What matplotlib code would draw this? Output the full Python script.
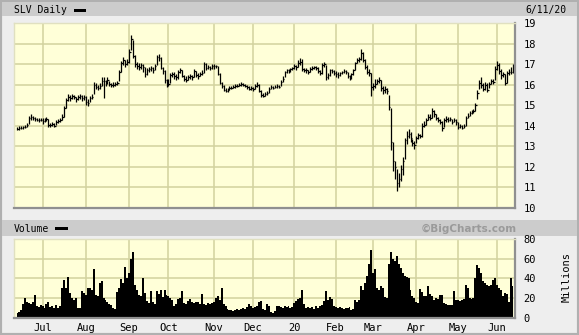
import numpy as np
import pandas as pd
import matplotlib
matplotlib.use('Agg')
import matplotlib.pyplot as plt
from matplotlib.patches import Rectangle

# ---------------- data ----------------
start_date, end_date = '2019-06-12', '2020-06-11'
holidays = ['2019-07-04', '2019-09-02', '2019-11-28', '2019-12-25', '2020-01-01',
            '2020-01-20', '2020-02-17', '2020-04-10', '2020-05-25']

close = [
    # Jun 2019
    13.85, 13.88, 13.90, 13.93, 13.95, 14.05, 14.40, 14.45, 14.40, 14.35, 14.30, 14.30, 14.30,
    # Jul
    14.25, 14.30, 14.35, 14.05, 14.05, 14.10, 14.00, 14.20, 14.25, 14.30, 14.45, 14.85, 15.25, 15.40,
    15.35, 15.45, 15.40, 15.30, 15.40, 15.45, 15.35, 15.40,
    # Aug
    15.15, 15.10, 15.35, 15.40, 16.00, 15.90, 15.85, 15.95, 16.20, 16.20, 16.10, 16.25, 16.05, 16.00,
    16.00, 16.05, 16.10, 16.60, 17.05, 17.20, 17.00, 17.10,
    # Sep
    17.60, 18.20, 17.40, 17.00, 16.90, 16.85, 16.95, 16.85, 16.50, 16.70, 16.75, 16.80, 16.70, 16.90,
    17.35, 17.30, 16.80, 16.65, 16.25, 16.00,
    # Oct
    16.05, 16.45, 16.50, 16.40, 16.35, 16.60, 16.70, 16.40, 16.30, 16.25, 16.35, 16.40, 16.35, 16.65,
    16.45, 16.40, 16.50, 16.55, 17.00, 16.80, 16.85, 16.80, 16.90,
    # Nov
    16.90, 16.90, 16.50, 16.10, 15.95, 15.75, 15.70, 15.75, 15.85, 15.85, 15.90, 15.95, 15.95, 16.00,
    16.05, 16.00, 15.95, 15.90, 15.80, 15.85,
    # Dec
    15.80, 15.95, 16.00, 15.70, 15.50, 15.45, 15.55, 15.60, 15.80, 15.90, 15.85, 15.90, 15.95, 15.90,
    16.15, 16.30, 16.60, 16.70, 16.65, 16.75, 16.80,
    # Jan 2020
    16.90, 16.85, 17.05, 17.10, 16.75, 16.70, 16.70, 16.60, 16.75, 16.80, 16.85, 16.80, 16.65, 16.55,
    16.95, 17.00, 16.35, 16.45, 16.70, 16.65, 16.55,
    # Feb
    16.50, 16.45, 16.55, 16.60, 16.65, 16.60, 16.40, 16.35, 16.50, 16.70, 17.05, 17.20, 17.25, 17.55,
    17.20, 16.85, 16.60, 16.55, 15.90,
    # Mar
    15.95, 16.05, 16.20, 16.25, 15.85, 15.75, 15.80, 15.70, 14.90, 13.20, 12.30, 12.00, 11.20, 11.40,
    11.90, 12.30, 13.30, 13.50, 13.60, 13.40, 13.15, 13.05,
    # Apr
    13.40, 13.55, 13.50, 14.00, 14.05, 14.30, 14.45, 14.40, 14.70, 14.55, 14.40, 14.30, 14.20, 13.90,
    14.30, 14.35, 14.30, 14.35, 14.20, 14.30, 14.20,
    # May
    13.95, 14.00, 13.90, 14.00, 14.40, 14.50, 14.60, 14.65, 14.70, 15.00, 15.60, 16.10, 16.00, 15.80,
    16.00, 15.75, 16.05, 16.20, 16.15, 16.75,
    # Jun
    16.95, 16.65, 16.45, 16.50, 16.10, 16.55, 16.60, 16.60, 16.85,
]

high = [
    13.95, 13.98, 13.98, 14.00, 14.05, 14.12, 14.50, 14.55, 14.50, 14.45, 14.40, 14.38, 14.40,
    14.40, 14.40, 14.45, 14.35, 14.15, 14.20, 14.12, 14.28, 14.35, 14.38, 14.55, 14.95, 15.35, 15.55,
    15.48, 15.55, 15.50, 15.42, 15.50, 15.55, 15.48, 15.52,
    15.45, 15.30, 15.45, 15.55, 16.15, 16.10, 16.00, 16.10, 16.35, 16.35, 16.25, 16.35, 16.20, 16.10,
    16.12, 16.15, 16.20, 16.70, 17.15, 17.35, 17.20, 17.25,
    17.75, 18.40, 18.15, 17.45, 17.10, 17.05, 17.05, 17.00, 16.85, 16.80, 16.85, 16.90, 16.85, 17.00,
    17.45, 17.50, 17.35, 16.85, 16.70, 16.30,
    16.30, 16.55, 16.62, 16.60, 16.50, 16.70, 16.80, 16.72, 16.45, 16.40, 16.45, 16.52, 16.48, 16.75,
    16.68, 16.55, 16.60, 16.70, 17.10, 17.05, 16.95, 16.92, 17.00,
    17.00, 16.98, 16.92, 16.55, 16.15, 15.98, 15.82, 15.85, 15.95, 15.95, 15.98, 16.02, 16.05, 16.08,
    16.12, 16.10, 16.05, 15.98, 15.92, 15.92,
    15.90, 16.05, 16.12, 16.05, 15.75, 15.58, 15.62, 15.68, 15.88, 15.98, 15.95, 15.98, 16.02, 16.00,
    16.22, 16.40, 16.68, 16.78, 16.75, 16.82, 16.88,
    17.00, 16.98, 17.20, 17.30, 17.25, 16.82, 16.80, 16.72, 16.85, 16.90, 16.92, 16.92, 16.85, 16.70,
    17.05, 17.10, 16.95, 16.55, 16.78, 16.78, 16.72,
    16.65, 16.60, 16.62, 16.68, 16.75, 16.72, 16.62, 16.48, 16.58, 16.78, 17.12, 17.30, 17.35, 17.75,
    17.60, 17.25, 16.95, 16.75, 16.55,
    16.10, 16.30, 16.30, 16.35, 16.25, 15.95, 15.95, 15.85, 15.50, 14.85, 13.20, 12.30, 11.90, 11.70,
    12.10, 12.50, 13.40, 13.75, 13.85, 13.70, 13.35, 13.25,
    13.50, 13.65, 13.62, 14.15, 14.25, 14.40, 14.55, 14.55, 14.85, 14.78, 14.55, 14.42, 14.35, 14.25,
    14.40, 14.48, 14.45, 14.42, 14.35, 14.40, 14.35,
    14.20, 14.10, 14.05, 14.10, 14.50, 14.60, 14.70, 14.78, 14.80, 15.10, 15.75, 16.25, 16.35, 16.10,
    16.15, 16.10, 16.15, 16.30, 16.30, 16.90,
    17.15, 17.05, 16.75, 16.60, 16.50, 16.65, 16.75, 16.85, 17.00,
]

low = [
    13.78, 13.80, 13.82, 13.85, 13.88, 13.92, 14.10, 14.30, 14.30, 14.25, 14.22, 14.20, 14.22,
    14.10, 14.20, 14.25, 13.95, 13.95, 14.00, 13.92, 14.02, 14.15, 14.20, 14.28, 14.45, 14.85, 15.20,
    15.22, 15.30, 15.28, 15.15, 15.25, 15.32, 15.22, 15.25,
    15.00, 14.98, 15.15, 15.30, 15.55, 15.80, 15.72, 15.80, 15.95, 15.35, 15.95, 16.05, 15.95, 15.88,
    15.90, 15.95, 16.00, 16.20, 16.60, 16.95, 16.85, 16.95,
    17.05, 17.70, 17.30, 16.85, 16.75, 16.70, 16.75, 16.60, 16.35, 16.45, 16.60, 16.65, 16.55, 16.70,
    16.95, 17.15, 16.75, 16.50, 16.10, 15.90,
    15.95, 16.10, 16.35, 16.30, 16.25, 16.30, 16.55, 16.35, 16.20, 16.15, 16.22, 16.30, 16.25, 16.35,
    16.38, 16.30, 16.40, 16.45, 16.55, 16.72, 16.75, 16.70, 16.78,
    16.78, 16.80, 16.45, 16.05, 15.85, 15.68, 15.62, 15.65, 15.72, 15.78, 15.82, 15.85, 15.88, 15.92,
    15.95, 15.92, 15.88, 15.78, 15.72, 15.75,
    15.70, 15.78, 15.90, 15.65, 15.42, 15.38, 15.45, 15.50, 15.58, 15.80, 15.78, 15.82, 15.85, 15.82,
    15.92, 16.15, 16.35, 16.55, 16.55, 16.62, 16.70,
    16.78, 16.72, 16.85, 16.95, 16.65, 16.60, 16.58, 16.52, 16.60, 16.70, 16.75, 16.70, 16.58, 16.45,
    16.50, 16.85, 16.25, 16.30, 16.40, 16.55, 16.45,
    16.38, 16.32, 16.40, 16.50, 16.55, 16.50, 16.32, 16.25, 16.30, 16.45, 16.70, 17.05, 17.10, 17.20,
    17.10, 16.75, 16.50, 16.40, 15.45,
    15.75, 15.85, 16.05, 16.10, 15.70, 15.55, 15.60, 15.55, 14.75, 12.80, 11.80, 11.40, 10.85, 11.00,
    11.30, 11.60, 12.40, 13.10, 13.40, 13.20, 13.00, 12.85,
    13.15, 13.35, 13.40, 13.45, 13.92, 14.05, 14.28, 14.30, 14.40, 14.45, 14.30, 14.20, 14.10, 13.75,
    13.95, 14.20, 14.18, 14.22, 14.10, 14.18, 14.05,
    13.85, 13.88, 13.82, 13.90, 14.00, 14.38, 14.50, 14.55, 14.60, 14.70, 15.30, 15.80, 15.85, 15.70,
    15.72, 15.65, 15.85, 16.05, 16.05, 16.25,
    16.70, 16.50, 16.30, 16.35, 16.00, 16.10, 16.45, 16.50, 16.55,
]

volume = [  # millions
    5, 6, 8, 14, 20, 16, 15, 14, 16, 23, 12, 11, 13,
    12, 10, 14, 16, 11, 12, 10, 13, 10, 12, 30, 38, 30, 41, 25, 20, 18, 20, 10, 10, 27, 25,
    23, 30, 30, 28, 49, 23, 22, 35, 37, 20, 18, 16, 14, 13, 10, 9, 26, 30, 39, 35, 51, 40,
    45, 60, 67, 33, 28, 23, 22, 40, 25, 17, 15, 27, 16, 14, 27, 24, 28, 21, 28, 23,
    22, 20, 18, 12, 14, 19, 20, 27, 15, 14, 17, 19, 16, 15, 16, 16, 14, 24, 14, 13, 15, 14, 15,
    16, 20, 22, 18, 30, 14, 12, 9, 8, 8, 7, 8, 9, 8, 9, 10, 9, 11, 14, 12,
    10, 11, 12, 16, 17, 9, 8, 14, 12, 6, 5, 7, 12, 12, 11, 10, 12, 11, 12, 10, 11,
    15, 17, 19, 20, 28, 14, 10, 11, 10, 11, 9, 12, 10, 12, 13, 17, 27, 18, 21, 19, 12,
    11, 10, 11, 10, 9, 10, 10, 11, 8, 9, 18, 16, 18, 32, 28, 35, 42, 55, 69,
    45, 49, 30, 28, 32, 30, 21, 20, 55, 67, 60, 58, 63, 55, 50, 45, 42, 41, 40, 28, 22, 20,
    16, 15, 29, 26, 22, 22, 32, 24, 22, 18, 20, 19, 23, 23, 15, 14, 13, 13, 13, 27, 18,
    18, 17, 18, 19, 33, 30, 20, 19, 20, 40, 54, 50, 45, 37, 35, 33, 32, 33, 38, 40,
    33, 30, 28, 22, 25, 24, 16, 40, 32,
]

month_labels = ['Jul', 'Aug', 'Sep', 'Oct', 'Nov', 'Dec', '20', 'Feb', 'Mar', 'Apr', 'May', 'Jun']
price_ticks = list(range(10, 20))
volume_ticks = [0, 20, 40, 60, 80]
title_left = 'SLV Daily'
title_right = '6/11/20'

# ---------------- layout helpers ----------------
W, H = 579, 335
def fx(px):
    return px / W
def fy(py):
    return 1 - py / H

dates = pd.bdate_range(start_date, end_date)
dates = dates[~dates.isin(pd.to_datetime(holidays))]
x = np.arange(len(dates))
month_starts = [i for i in range(1, len(dates)) if dates[i].month != dates[i - 1].month]

MONO = ['DejaVu Sans Mono']
BG = '#eeeeee'
BAND = '#cccccc'
PLOT_BG = '#ffffd8'
GRID = '#d2d29e'

fig = plt.figure(figsize=(W / 100, H / 100), dpi=100, facecolor=BG)

# outer frame
fig.add_artist(Rectangle((0, 0), 1, 1, transform=fig.transFigure, fill=False,
                         edgecolor='#b0b0b0', lw=3, zorder=0))
# header bands
fig.add_artist(Rectangle((fx(2), fy(16)), fx(577) - fx(2), fy(2) - fy(16),
                         transform=fig.transFigure, facecolor=BAND, edgecolor='none', zorder=0))
fig.add_artist(Rectangle((fx(2), fy(236)), fx(577) - fx(2), fy(220) - fy(236),
                         transform=fig.transFigure, facecolor=BAND, edgecolor='none', zorder=0))

fig.text(fx(14), fy(10), title_left, family=MONO, size=7, ha='left', va='center')
fig.add_artist(Rectangle((fx(74), fy(11.5)), fx(86) - fx(74), fy(8.5) - fy(11.5),
                         transform=fig.transFigure, facecolor='black', edgecolor='none'))
fig.text(fx(566), fy(10), title_right, family=MONO, size=7, ha='right', va='center')

fig.text(fx(14), fy(228.5), 'Volume', family=MONO, size=7, ha='left', va='center')
fig.add_artist(Rectangle((fx(55.5), fy(230)), fx(67.5) - fx(55.5), fy(227) - fy(230),
                         transform=fig.transFigure, facecolor='black', edgecolor='none'))
fig.text(fx(517), fy(228.5), '\u00a9BigCharts.com', family=['DejaVu Sans'], weight='bold',
         size=7.5, color='#9a9a9a', ha='right', va='center')

xlim = (-1.5, 253.1)

def style_axes(ax):
    ax.set_facecolor(PLOT_BG)
    ax.set_xlim(*xlim)
    ax.yaxis.tick_right()
    ax.tick_params(axis='both', length=0, labelsize=7, pad=6)
    ax.set_xticks(month_starts)
    ax.grid(True, color=GRID, lw=1.1)
    ax.set_axisbelow(True)
    for s in ['top', 'left']:
        ax.spines[s].set_color('#e0e0c0')
        ax.spines[s].set_linewidth(1)
    for s in ['bottom', 'right']:
        ax.spines[s].set_color('#909090')
        ax.spines[s].set_linewidth(1.6)

# ---------------- price panel ----------------
ax1 = fig.add_axes([fx(14), fy(208), fx(515) - fx(14), fy(23) - fy(208)])
ax1.vlines(x, low, high, color='black', lw=0.9)
ax1.hlines(close, x, x + 0.8, color='black', lw=0.9)
ax1.set_ylim(10, 19)
ax1.set_yticks(price_ticks)
style_axes(ax1)
ax1.set_xticklabels([])
for lab in ax1.get_yticklabels():
    lab.set_family(MONO)
    lab.set_fontsize(7.5)

# ---------------- volume panel ----------------
ax2 = fig.add_axes([fx(14), fy(317.5), fx(515) - fx(14), fy(239) - fy(317.5)])
ax2.fill_between(x, volume, step='mid', color='black', lw=0)
ax2.set_ylim(0, 80)
ax2.set_yticks(volume_ticks)
style_axes(ax2)
ax2.set_xticklabels(month_labels)
for lab in ax2.get_yticklabels() + ax2.get_xticklabels():
    lab.set_family(MONO)
    lab.set_fontsize(7.5)
ax2.tick_params(axis='x', pad=4)
fig.text(fx(567), fy(277), 'Millions', family=MONO, size=7.5, rotation=90,
         ha='center', va='center')

fig.savefig('out.png', dpi=100, facecolor=BG)
